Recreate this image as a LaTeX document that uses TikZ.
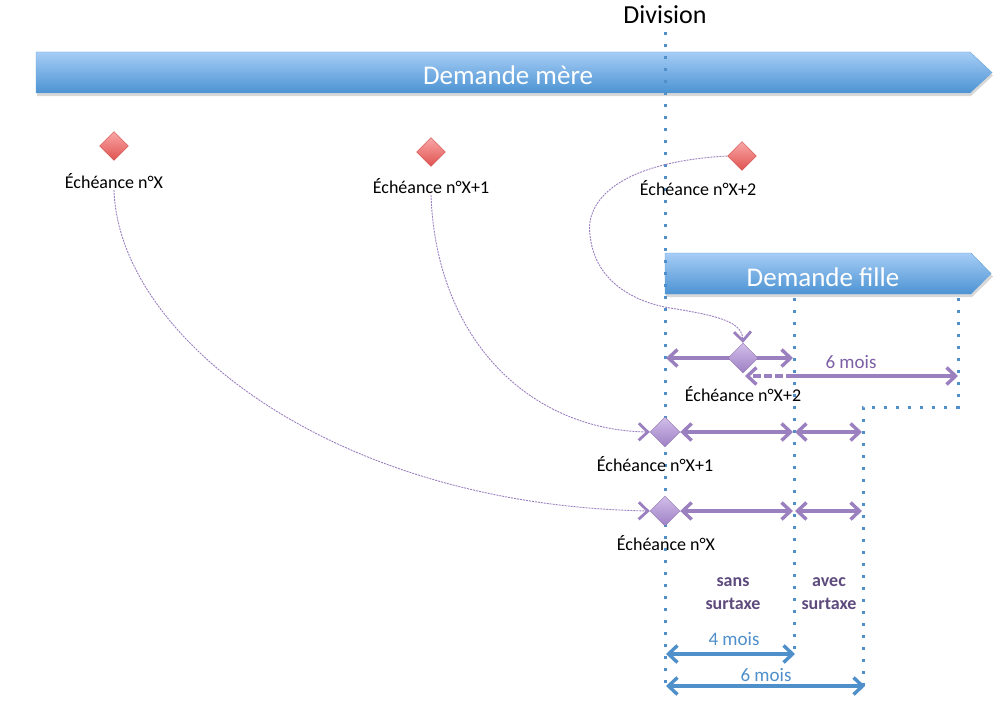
\documentclass[tikz,border=0pt]{standalone}
\usepackage{fontspec}
\setmainfont{Carlito}
\usetikzlibrary{arrows.meta,shapes.geometric}
\definecolor{bantop}{HTML}{A6CDF6}
\definecolor{banbot}{HTML}{4C93D2}
\definecolor{dotblue}{HTML}{4F8FCA}
\definecolor{purp}{HTML}{9B80C0}
\definecolor{purptxt}{HTML}{7D5FA5}
\definecolor{purpdark}{HTML}{5E4B7E}
\definecolor{diatop}{HTML}{D2BEEA}
\definecolor{diabot}{HTML}{9E80C4}
\definecolor{redtop}{HTML}{F9A7A7}
\definecolor{redbot}{HTML}{E0524F}
\definecolor{bluetxt}{HTML}{4F8FCA}
\begin{document}
\begin{tikzpicture}[x=1pt,y=-1pt,
  dotline/.style={draw=dotblue,line width=3pt,dash pattern=on 3pt off 9pt},
  reddia/.style={diamond,aspect=1,minimum width=29pt,minimum height=29pt,inner sep=0pt,top color=redtop,bottom color=redbot,draw=redbot!90!black,line width=0.4pt},
  purdia/.style={diamond,aspect=1,minimum width=30pt,minimum height=30pt,inner sep=0pt,top color=diatop,bottom color=diabot,draw=diabot!90!black,line width=0.4pt},
  lbl/.style={font=\fontsize{18}{21}\selectfont,text=black,inner sep=1pt},
  bannertxt/.style={font=\fontsize{27}{31}\selectfont,text=white,inner sep=0pt},
  parr/.style={draw=purp,line width=3.6pt,{Straight Barb[length=9pt,width=17pt,line width=3.4pt]}-{Straight Barb[length=9pt,width=17pt,line width=3.4pt]}},
  parrr/.style={draw=purp,line width=3.6pt,-{Straight Barb[length=9pt,width=17pt,line width=3.4pt]}},
  barr/.style={draw=dotblue,line width=3.6pt,{Straight Barb[length=9pt,width=17pt,line width=3.4pt]}-{Straight Barb[length=9pt,width=17pt,line width=3.4pt]}},
  curve/.style={draw=purp,line width=0.9pt,dash pattern=on 2pt off 1pt,-{Straight Barb[length=9pt,width=17pt,line width=2.8pt]}},
  ptxt/.style={font=\fontsize{19}{22}\selectfont,text=purptxt,inner sep=1pt},
  btxt/.style={font=\fontsize{19}{22}\selectfont,text=bluetxt,inner sep=1pt},
  stxt/.style={font=\bfseries\fontsize{18}{23}\selectfont,text=purpdark,align=center,inner sep=1pt}
]
\useasboundingbox (0,0) rectangle (999,709);
\fill[white] (0,0) rectangle (999,709);
% banners
\fill[black!25,opacity=0.6] (37,55) -- (971,55) -- (993,75.5) -- (971,96) -- (37,96) -- cycle;
\shade[top color=bantop,bottom color=banbot,draw=banbot!85!white,line width=0.4pt] (36,52) -- (970,52) -- (992,72.5) -- (970,93) -- (36,93) -- cycle;
\node[bannertxt] (mere) at (508,75) {Demande mère};
\fill[black!25,opacity=0.6] (666,256) -- (972,256) -- (993,276.5) -- (972,297) -- (666,297) -- cycle;
\shade[top color=bantop,bottom color=banbot,draw=banbot!85!white,line width=0.4pt] (665,253) -- (971,253) -- (991,273.5) -- (971,294) -- (665,294) -- cycle;
\node[bannertxt] (fille) at (823,277) {Demande fille};
% division
\node[font=\fontsize{26}{30}\selectfont,inner sep=0pt] (div) at (665,15) {Division};
% dotted lines
\coordinate (d1a) at (665,32); \coordinate (d1b) at (665,690);
\coordinate (d2a) at (794,298); \coordinate (d2b) at (794,650);
\coordinate (d3a) at (958,298); \coordinate (d3b) at (958,407);
\coordinate (d4a) at (863,407); \coordinate (d4b) at (863,688);
\draw[dotline] (d1a) -- (d1b);
\draw[dotline] (d2a) -- (d2b);
\draw[dotline] (d3a) -- (d3b) -- (d4a) -- (d4b);
% red diamonds
\node[reddia] (rx) at (114,146) {};
\node[reddia] (rx1) at (431,152) {};
\node[reddia] (rx2) at (742,156) {};
\node[lbl] (lx) at (114,181) {Échéance n°X};
\node[lbl] (lx1) at (431,186) {Échéance n°X+1};
\node[lbl] (lx2) at (698,188) {Échéance n°X+2};
% row arrows
\coordinate (a1l) at (666,358); \coordinate (a1r) at (793,358);
\coordinate (b1r) at (794,376); \coordinate (b1e) at (958,376); \coordinate (b1d) at (745,376);
\draw[parr] (a1l) -- (a1r);
\draw[draw=purp,line width=3.6pt,dash pattern=on 8pt off 3pt,-{Straight Barb[length=9pt,width=17pt,line width=3.4pt]}] (b1r) -- (b1d);
\draw[parrr] (b1r) -- (b1e);
\node[purdia] (px2) at (743,358) {};
\node[ptxt] (six1) at (851,362) {6 mois};
\node[lbl] (plx2) at (743,394) {Échéance n°X+2};

\node[purdia] (px1) at (665,432) {};
\coordinate (a2m) at (793,432); \coordinate (a2n) at (795,432); \coordinate (a2r) at (862,432);
\draw[parr] (px1.east) -- (a2m);
\draw[parr] (a2n) -- (a2r);
\node[lbl] (plx1) at (655,464) {Échéance n°X+1};

\node[purdia] (px) at (665,511) {};
\coordinate (a3m) at (793,511); \coordinate (a3n) at (795,511); \coordinate (a3r) at (862,511);
\draw[parr] (px.east) -- (a3m);
\draw[parr] (a3n) -- (a3r);
\node[lbl] (plx) at (666,543) {Échéance n°X};

% curves
\draw[curve] (lx.south) .. controls (118,335) and (330,505) .. (px.west);
\draw[curve] (lx1.south) .. controls (436,340) and (530,430) .. (px1.west);
\draw[curve] (rx2.west) .. controls (620,162) and (585,200) .. (590,235) .. controls (595,285) and (640,303) .. (670,308) .. controls (720,316) and (742,322) .. (px2.north);

% surtaxe
\node[stxt] (sans) at (733,594) {sans\\surtaxe};
\node[stxt] (avec) at (829,594) {avec\\surtaxe};

% blue arrows
\coordinate (c1l) at (666,654); \coordinate (c1r) at (795,654);
\coordinate (c2l) at (666,686); \coordinate (c2r) at (865,686);
\draw[barr] (c1l) -- (c1r);
\draw[barr] (c2l) -- (c2r);
\node[btxt] (four) at (734,639) {4 mois};
\node[btxt] (six2) at (766,675) {6 mois};
\end{tikzpicture}
\end{document}
